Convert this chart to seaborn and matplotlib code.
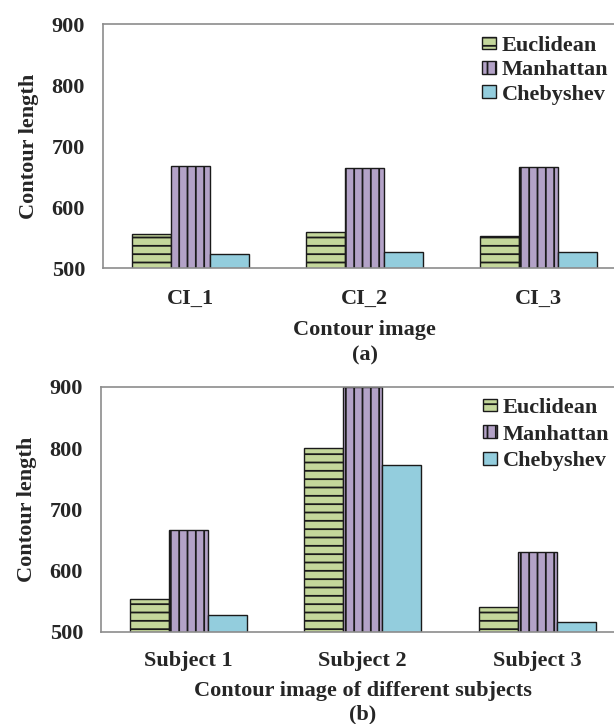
import matplotlib
matplotlib.use("Agg")
import matplotlib.pyplot as plt
import seaborn as sns
import pandas as pd

# ---- data ----
methods = ["Euclidean", "Manhattan", "Chebyshev"]

images = ["CI_1", "CI_2", "CI_3"]
euclidean_a = [556, 559, 553]
manhattan_a = [668, 664, 666]
chebyshev_a = [523, 527, 527]

subjects = ["Subject 1", "Subject 2", "Subject 3"]
euclidean_b = [554, 800, 540]
manhattan_b = [667, 900, 630]
chebyshev_b = [528, 772, 516]

y_ticks = [500, 600, 700, 800, 900]

# ---- style ----
colors = ["#c4d79b", "#b3a2c7", "#93cddd"]
hatches = ["--", "||", ""]
sns.set_theme(style="white")
plt.rcParams["font.family"] = ["Liberation Serif", "DejaVu Serif"]
plt.rcParams["font.weight"] = "bold"
plt.rcParams["hatch.color"] = "#1a1a1a"
plt.rcParams["hatch.linewidth"] = 1.3
FS = 16
SPINE = "#8c8c8c"


def long_table(cats, e, m, c):
    rows = []
    for name, vals in zip(methods, [e, m, c]):
        for cat, v in zip(cats, vals):
            rows.append({"cat": cat, "method": name, "length": v})
    return pd.DataFrame(rows)


def draw(ax, cats, e, m, c, xlabel, tag, tick_pad, xlabel_pad, tag_offset,
         leg_anchor, leg_spacing):
    df = long_table(cats, e, m, c)
    sns.barplot(data=df, x="cat", y="length", hue="method", order=cats,
                hue_order=methods, palette=colors, width=0.67, gap=0,
                edgecolor="#1a1a1a", linewidth=1.0, saturation=1,
                legend=False, ax=ax)
    for cont, h in zip(ax.containers, hatches):
        for bar in cont:
            bar.set_hatch(h)
    ax.set_ylim(500, 900)
    ax.set_xlim(-0.5, len(cats) - 0.5)
    ax.set_yticks(y_ticks)
    ax.set_yticklabels([str(v) for v in y_ticks], fontsize=FS, fontweight="bold")
    ax.set_xticks(range(len(cats)))
    ax.set_xticklabels(cats, fontsize=FS, fontweight="bold")
    ax.set_xticks([i - 0.5 for i in range(len(cats) + 1)], minor=True)
    ax.set_yticks([500], minor=True)
    ax.tick_params(axis="x", which="major", length=0, pad=tick_pad)
    ax.tick_params(axis="x", which="minor", length=5, color=SPINE, width=1)
    ax.tick_params(axis="y", which="major", length=0, pad=13)
    ax.tick_params(axis="y", which="minor", length=5, color=SPINE, width=1)
    for side in ["left", "bottom", "top", "right"]:
        ax.spines[side].set_color(SPINE)
        ax.spines[side].set_linewidth(1.2)
    ax.set_ylabel("Contour length", fontsize=FS, fontweight="bold", labelpad=9)
    ax.set_xlabel(xlabel, fontsize=FS, fontweight="bold", labelpad=xlabel_pad)
    ax.annotate(tag, xy=(0.5, 0), xycoords="axes fraction",
                xytext=(0, tag_offset), textcoords="offset pixels",
                ha="center", va="center", fontsize=FS, fontweight="bold")
    leg = ax.legend(handles=ax.containers, labels=methods, loc="upper left",
                    bbox_to_anchor=leg_anchor, frameon=False,
                    prop={"weight": "bold", "size": FS},
                    handlelength=0.62, handleheight=0.5, handletextpad=0.25,
                    labelspacing=leg_spacing, borderpad=0, borderaxespad=0)
    return leg


fig = plt.figure(figsize=(6.14, 7.24), dpi=100)
ax1 = fig.add_axes([0.1678, 0.6298, 0.8518, 0.3370])
ax2 = fig.add_axes([0.1645, 0.1271, 0.8526, 0.3384])

draw(ax1, images, euclidean_a, manhattan_a, chebyshev_a, "Contour image",
     "(a)", 15, 8, -87, (0.725, 0.952), 0.2)
draw(ax2, subjects, euclidean_b, manhattan_b, chebyshev_b,
     "Contour image of different subjects", "(b)", 14, 7, -83,
     (0.73, 0.955), 0.3)

fig.savefig("out.png", dpi=100)
